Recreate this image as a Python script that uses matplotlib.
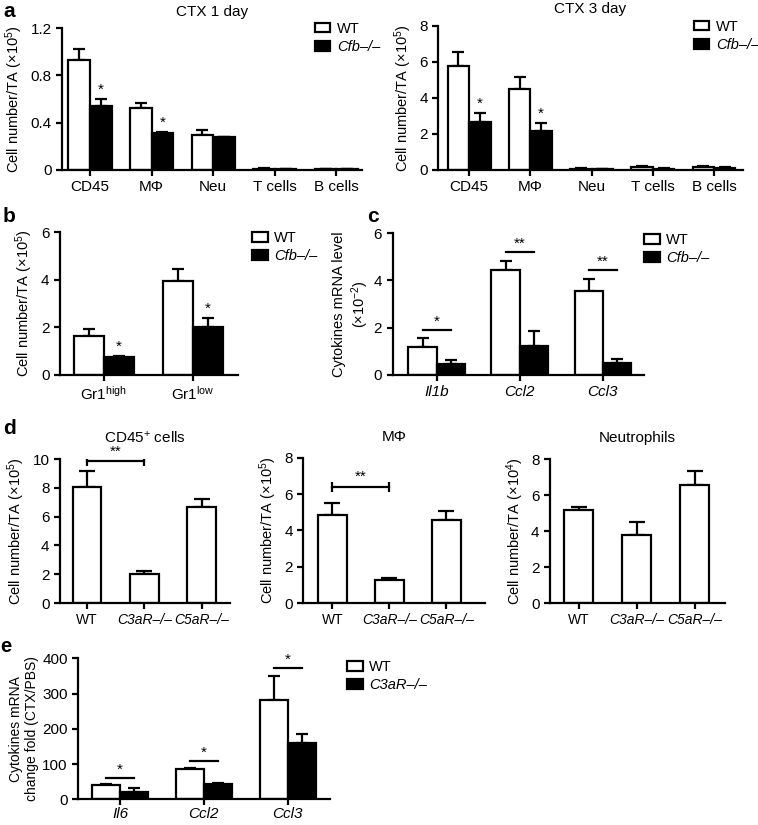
import numpy as np
import matplotlib
matplotlib.use('Agg')
import matplotlib.pyplot as plt
from matplotlib.patches import Patch

plt.rcParams['font.family'] = ['Liberation Sans', 'DejaVu Sans']
plt.rcParams['mathtext.fontset'] = 'custom'
plt.rcParams['mathtext.rm'] = 'Liberation Sans'
plt.rcParams['mathtext.it'] = 'Liberation Sans:italic'
plt.rcParams['font.size'] = 10.5

# ---- data ----
a_cats = ['CD45', 'MΦ', 'Neu', 'T cells', 'B cells']
a1_wt = [0.927, 0.525, 0.295, 0.012, 0.008]
a1_wt_err = [0.098, 0.042, 0.042, 0.004, 0.003]
a1_ko = [0.542, 0.309, 0.275, 0.008, 0.008]
a1_ko_err = [0.056, 0.008, 0.005, 0.003, 0.003]
a1_sig = ['*', '*', '', '', '']

a2_wt = [5.8, 4.5, 0.08, 0.15, 0.15]
a2_wt_err = [0.77, 0.65, 0.02, 0.05, 0.05]
a2_ko = [2.65, 2.18, 0.05, 0.08, 0.12]
a2_ko_err = [0.5, 0.42, 0.02, 0.02, 0.03]
a2_sig = ['*', '*', '', '', '']

b_cats = ['Gr1$^{\\mathrm{high}}$', 'Gr1$^{\\mathrm{low}}$']
b_wt = [1.64, 3.93]
b_wt_err = [0.29, 0.53]
b_ko = [0.74, 2.03]
b_ko_err = [0.06, 0.35]
b_sig = ['*', '*']

c_cats = ['Il1b', 'Ccl2', 'Ccl3']
c_wt = [1.2, 4.45, 3.53]
c_wt_err = [0.38, 0.38, 0.54]
c_ko = [0.45, 1.24, 0.49]
c_ko_err = [0.19, 0.6, 0.19]
c_line = [1.9, 5.2, 4.45]
c_sig = ['*', '**', '**']

d_cats = ['WT', 'C3aR–/–', 'C5aR–/–']
d1_vals = [8.05, 2.01, 6.64]
d1_err = [1.09, 0.19, 0.6]
d1_br = 9.84
d2_vals = [4.87, 1.25, 4.6]
d2_err = [0.64, 0.13, 0.49]
d2_br = 6.4
d3_vals = [5.15, 3.76, 6.54]
d3_err = [0.18, 0.76, 0.79]

e_cats = ['Il6', 'Ccl2', 'Ccl3']
e_wt = [40, 85, 283]
e_wt_err = [3, 4, 68]
e_ko = [22, 44, 160]
e_ko_err = [9, 3, 26]
e_line = [62, 110, 372]
e_sig = ['*', '*', '*']

LW = 1.6
fig = plt.figure(figsize=(7.58, 8.25), dpi=100)


def style(ax):
    for s in ['top', 'right']:
        ax.spines[s].set_visible(False)
    for s in ['left', 'bottom']:
        ax.spines[s].set_linewidth(LW)
    ax.tick_params(width=LW, length=4, labelsize=11)
    ax.tick_params(axis='x', pad=3)


def pair_bars(ax, wt, wt_err, ko, ko_err, w):
    x = np.arange(len(wt))
    ax.bar(x - w / 2, wt, w, color='white', edgecolor='black', lw=LW, zorder=2)
    ax.bar(x + w / 2, ko, w, color='black', edgecolor='black', lw=LW, zorder=2)
    ax.errorbar(x - w / 2, wt, yerr=[np.zeros(len(wt)), wt_err], fmt='none',
                ecolor='black', elinewidth=LW, capsize=4.5, capthick=LW, zorder=1)
    ax.errorbar(x + w / 2, ko, yerr=[np.zeros(len(ko)), ko_err], fmt='none',
                ecolor='black', elinewidth=LW, capsize=4.5, capthick=LW, zorder=1)
    return x


def legend(ax, anchor, ko_name='Cfb–/–'):
    h = [Patch(facecolor='white', edgecolor='black', lw=LW),
         Patch(facecolor='black', edgecolor='black', lw=LW)]
    leg = ax.legend(h, ['WT', ko_name], loc='upper left', bbox_to_anchor=anchor,
                    frameon=False, handlelength=1.05, handleheight=0.65,
                    handletextpad=0.45, labelspacing=0.3, fontsize=10.5,
                    borderaxespad=0, borderpad=0)
    leg.get_texts()[1].set_style('italic')


# ---- panel a ----
for pos, wt, wte, ko, koe, sig, top, ticks, title, xl, lg in [
        ([0.0818, 0.794, 0.396, 0.172], a1_wt, a1_wt_err, a1_ko, a1_ko_err, a1_sig,
         1.2, [0, 0.4, 0.8, 1.2], 'CTX 1 day', (-0.455, 4.42), 0.843),
        ([0.578, 0.794, 0.402, 0.1745], a2_wt, a2_wt_err, a2_ko, a2_ko_err, a2_sig,
         8, [0, 2, 4, 6, 8], 'CTX 3 day', (-0.506, 4.47), 0.84)]:
    ax = fig.add_axes(pos)
    style(ax)
    w = 0.35
    x = pair_bars(ax, wt, wte, ko, koe, w)
    for i, s in enumerate(sig):
        if s:
            ax.text(x[i] + w / 2, ko[i] + koe[i] + top * 0.02, s, ha='center',
                    va='bottom', fontsize=11)
    ax.set_xlim(*xl)
    ax.set_ylim(0, top)
    ax.set_yticks(ticks)
    ax.set_yticklabels([('%g' % t) for t in ticks])
    ax.set_xticks(x)
    ax.set_xticklabels(a_cats)
    ax.set_ylabel('Cell number/TA (×10$^5$)', fontsize=10.5)
    ax.set_title(title, fontsize=11, pad=9)
    legend(ax, (lg, 1.045))

fig.text(0.004, 0.986, 'a', fontsize=15, fontweight='bold', va='center')

# ---- panel b ----
ax = fig.add_axes([0.079, 0.5455, 0.235, 0.173])
style(ax)
w = 0.337
x = pair_bars(ax, b_wt, b_wt_err, b_ko, b_ko_err, w)
for i, s in enumerate(b_sig):
    ax.text(x[i] + w / 2, b_ko[i] + b_ko_err[i] + 0.1, s, ha='center', va='bottom', fontsize=11)
ax.set_xlim(-0.494, 1.506)
ax.set_ylim(0, 6)
ax.set_yticks([0, 2, 4, 6])
ax.set_xticks(x)
ax.set_xticklabels(b_cats)
ax.set_ylabel('Cell number/TA (×10$^5$)', fontsize=10.5)
legend(ax, (1.08, 1.01))
fig.text(0.004, 0.737, 'b', fontsize=15, fontweight='bold', va='center')

# ---- panel c ----
ax = fig.add_axes([0.518, 0.5455, 0.332, 0.172])
style(ax)
w = 0.34
x = pair_bars(ax, c_wt, c_wt_err, c_ko, c_ko_err, w)
for i, s in enumerate(c_sig):
    ax.plot([x[i] - w / 2, x[i] + w / 2], [c_line[i]] * 2, color='black', lw=LW)
    ax.text(x[i], c_line[i] + 0.05, s, ha='center', va='bottom', fontsize=11)
ax.set_xlim(-0.53, 2.5)
ax.set_ylim(0, 6)
ax.set_yticks([0, 2, 4, 6])
ax.set_xticks(x)
ax.set_xticklabels(c_cats, style='italic')
ax.set_ylabel('Cytokines mRNA level\n(×10$^{-2}$)', fontsize=10.5, labelpad=2)
legend(ax, (1.0, 1.0))
fig.text(0.484, 0.737, 'c', fontsize=15, fontweight='bold', va='center')

# ---- panel d ----
for pos, vals, err, top, br, title, xl, unit in [
        ([0.079, 0.269, 0.224, 0.1745], d1_vals, d1_err, 10, d1_br, 'CD45$^{+}$ cells',
         (-0.47, 2.49), '5'),
        ([0.40, 0.269, 0.24, 0.176], d2_vals, d2_err, 8, d2_br, 'MΦ', (-0.51, 2.68), '5'),
        ([0.7256, 0.269, 0.231, 0.1745], d3_vals, d3_err, 8, None, 'Neutrophils',
         (-0.5, 2.52), '4')]:
    ax = fig.add_axes(pos)
    style(ax)
    x = np.arange(len(vals))
    ax.bar(x, vals, 0.5, color='white', edgecolor='black', lw=LW, zorder=2)
    ax.errorbar(x, vals, yerr=[np.zeros(len(vals)), err], fmt='none', ecolor='black',
                elinewidth=LW, capsize=6, capthick=LW, zorder=1)
    if br is not None:
        ax.errorbar([0, 1], [br, br], yerr=top * 0.035, fmt='none', ecolor='black',
                    elinewidth=LW)
        ax.plot([0, 1], [br, br], color='black', lw=LW)
        ax.text(0.5, br + top * 0.02, '**', ha='center', va='bottom', fontsize=11)
    ax.set_xlim(*xl)
    ax.set_ylim(0, top)
    ax.set_yticks(np.arange(0, top + 1, 2))
    ax.set_xticks(x)
    ax.set_xticklabels(d_cats, fontsize=10)
    for lab in ax.get_xticklabels()[1:]:
        lab.set_style('italic')
    ax.set_ylabel('Cell number/TA (×10$^{%s}$)' % unit, fontsize=10.5)
    ax.set_title(title, fontsize=11, pad=12)
fig.text(0.004, 0.481, 'd', fontsize=15, fontweight='bold', va='center')

# ---- panel e ----
ax = fig.add_axes([0.103, 0.031, 0.332, 0.171])
style(ax)
ax.tick_params(axis='x', pad=1.5)
w = 0.333
x = pair_bars(ax, e_wt, e_wt_err, e_ko, e_ko_err, w)
for i, s in enumerate(e_sig):
    ax.plot([x[i] - w / 2, x[i] + w / 2], [e_line[i]] * 2, color='black', lw=LW)
    ax.text(x[i], e_line[i] + 3, s, ha='center', va='bottom', fontsize=11)
ax.set_xlim(-0.5, 2.5)
ax.set_ylim(0, 400)
ax.set_yticks([0, 100, 200, 300, 400])
ax.set_xticks(x)
ax.set_xticklabels(e_cats, style='italic')
ax.set_ylabel('Cytokines mRNA\nchange fold (CTX/PBS)', fontsize=10, labelpad=2)
legend(ax, (1.07, 0.99), ko_name='C3aR–/–')
fig.text(0.0, 0.216, 'e', fontsize=14.5, fontweight='bold', va='center')

fig.savefig('out.png', dpi=100)
